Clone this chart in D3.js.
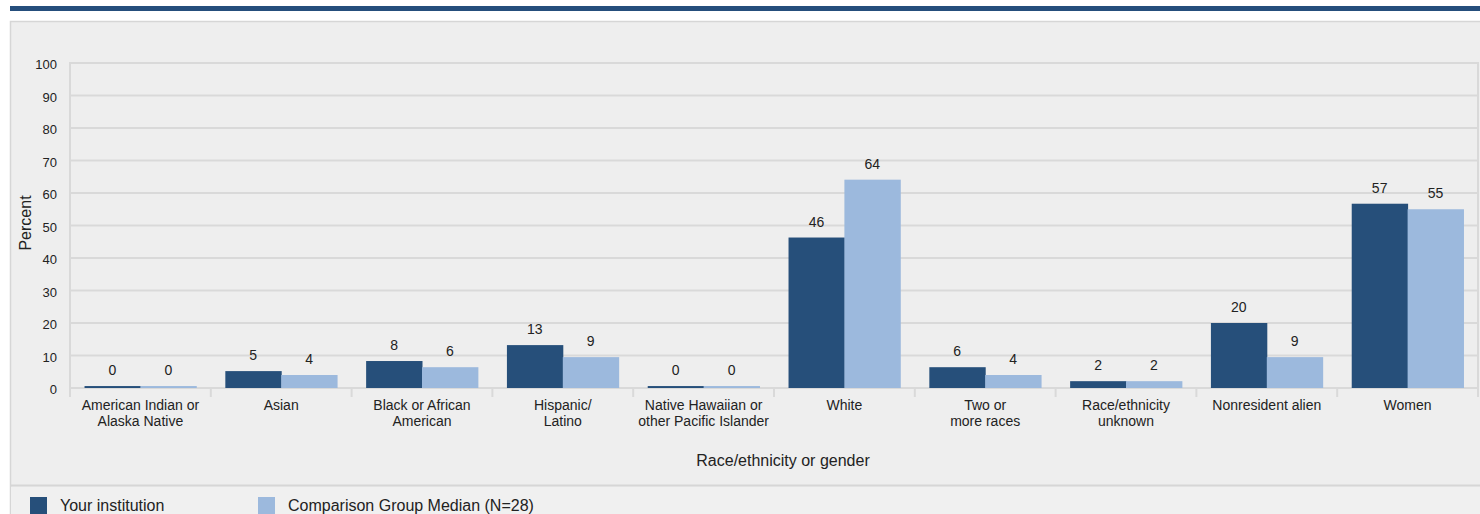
<!DOCTYPE html>
<html><head><meta charset="utf-8">
<script src="https://cdn.jsdelivr.net/npm/d3@7"></script>
<style>
html,body{margin:0;padding:0;background:#fff;}
svg{display:block;font-family:"Liberation Sans",Arial,sans-serif;}
</style></head>
<body><svg id="chart" width="1480" height="514"></svg>
<script>
const categories = [
  ["American Indian or","Alaska Native"],
  ["Asian"],
  ["Black or African","American"],
  ["Hispanic/","Latino"],
  ["Native Hawaiian or","other Pacific Islander"],
  ["White"],
  ["Two or","more races"],
  ["Race/ethnicity","unknown"],
  ["Nonresident alien"],
  ["Women"]
];
const seriesNames = ["Your institution", "Comparison Group Median (N=28)"];
const institution = [0.6, 5.2, 8.3, 13.2, 0.6, 46.3, 6.4, 2.1, 20, 56.7];
const comparison  = [0.6, 4.0, 6.4, 9.5, 0.6, 64.1, 4.0, 2.1, 9.5, 55];
const labelsInst = [0, 5, 8, 13, 0, 46, 6, 2, 20, 57];
const labelsComp = [0, 4, 6, 9, 0, 64, 4, 2, 9, 55];
const yTicks = [0,10,20,30,40,50,60,70,80,90,100];
const colors = ["#264f7a", "#9cb9dd"];

const svg = d3.select("#chart");
const W = 1480, H = 514;
const mLeft = 70, mRight = 1478, mTop = 63, mBottom = 388;

// header bar and panel
svg.append("rect").attr("x",10).attr("y",6).attr("width",W-10).attr("height",5).attr("fill","#254e7c");
svg.append("rect").attr("x",10.5).attr("y",21.5).attr("width",W).attr("height",H).attr("fill","#eeeeee").attr("stroke","#d6d6d6").attr("stroke-width",1.5);
svg.append("rect").attr("x",11).attr("y",487).attr("width",W).attr("height",H).attr("fill","#f0f0f0");
svg.append("line").attr("x1",10).attr("x2",W).attr("y1",485.5).attr("y2",485.5).attr("stroke","#d6d6d6").attr("stroke-width",2);

const keys = categories.map((c,i)=>i);
const x0 = d3.scaleBand().domain(keys).range([mLeft,mRight]);
const x1 = d3.scaleBand().domain([0,1]).range([0,x0.bandwidth()]).paddingOuter(0.26);
const y = d3.scaleLinear().domain([0,100]).range([mBottom,mTop]);

// gridlines
svg.append("g").selectAll("line").data(yTicks).join("line")
  .attr("x1",mLeft).attr("x2",mRight).attr("y1",d=>y(d)).attr("y2",d=>y(d))
  .attr("stroke","#d9d9d9").attr("stroke-width",2);
svg.append("line").attr("x1",mRight).attr("x2",mRight).attr("y1",mTop-1).attr("y2",mBottom+9).attr("stroke","#d9d9d9").attr("stroke-width",2);
svg.append("line").attr("x1",mLeft).attr("x2",mLeft).attr("y1",mTop-1).attr("y2",mBottom+9).attr("stroke","#d9d9d9").attr("stroke-width",2);

// y axis
const yAxis = svg.append("g").attr("transform",`translate(${mLeft},1.5)`)
  .call(d3.axisLeft(y).tickValues(yTicks).tickSize(0).tickPadding(13));
yAxis.select(".domain").remove();
yAxis.selectAll("text").attr("font-size",13).attr("fill","#222").attr("font-family","Liberation Sans, Arial, sans-serif");

// x axis (tick marks at band boundaries)
svg.append("g").selectAll("line").data(keys.slice(1)).join("line")
  .attr("x1",d=>x0(d)).attr("x2",d=>x0(d)).attr("y1",mBottom).attr("y2",mBottom+9)
  .attr("stroke","#d9d9d9").attr("stroke-width",2);
const catG = svg.append("g").selectAll("text").data(keys).join("text")
  .attr("x",d=>x0(d)+x0.bandwidth()/2).attr("y",mBottom+22)
  .attr("text-anchor","middle").attr("font-size",14).attr("fill","#222");
catG.selectAll("tspan").data(d=>categories[d].map(t=>({t,x:x0(d)+x0.bandwidth()/2}))).join("tspan")
  .attr("x",d=>d.x).attr("dy",(d,i)=>i?16:0).text(d=>d.t);

// bars
const data = [institution, comparison];
const labels = [labelsInst, labelsComp];
const groups = svg.append("g").selectAll("g").data(keys).join("g")
  .attr("transform",d=>`translate(${x0(d)},0)`);
groups.selectAll("rect").data(d=>[0,1].map(s=>({s,v:data[s][d]}))).join("rect")
  .attr("x",d=>x1(d.s)).attr("width",x1.bandwidth()+0.5)
  .attr("y",d=>y(d.v)).attr("height",d=>y(0)-y(d.v))
  .attr("fill",d=>colors[d.s]);
groups.selectAll("text").data(d=>[0,1].map(s=>({s,v:data[s][d],l:labels[s][d]}))).join("text")
  .attr("x",d=>x1(d.s)+x1.bandwidth()/2).attr("y",d=>y(d.v)-11)
  .attr("text-anchor","middle").attr("font-size",14).attr("fill","#222").text(d=>d.l);

// axis titles
svg.append("text").attr("transform","translate(31,223) rotate(-90)")
  .attr("text-anchor","middle").attr("font-size",16).attr("fill","#222").text("Percent");
svg.append("text").attr("x",783).attr("y",466).attr("text-anchor","middle")
  .attr("font-size",16).attr("fill","#222").text("Race/ethnicity or gender");

// legend
const legX = [30, 258];
const leg = svg.append("g").selectAll("g").data(seriesNames).join("g")
  .attr("transform",(d,i)=>`translate(${legX[i]},497)`);
leg.append("rect").attr("width",17).attr("height",20).attr("fill",(d,i)=>colors[i]);
leg.append("text").attr("x",30).attr("y",14).attr("font-size",16).attr("fill","#222").text(d=>d);
</script></body></html>
